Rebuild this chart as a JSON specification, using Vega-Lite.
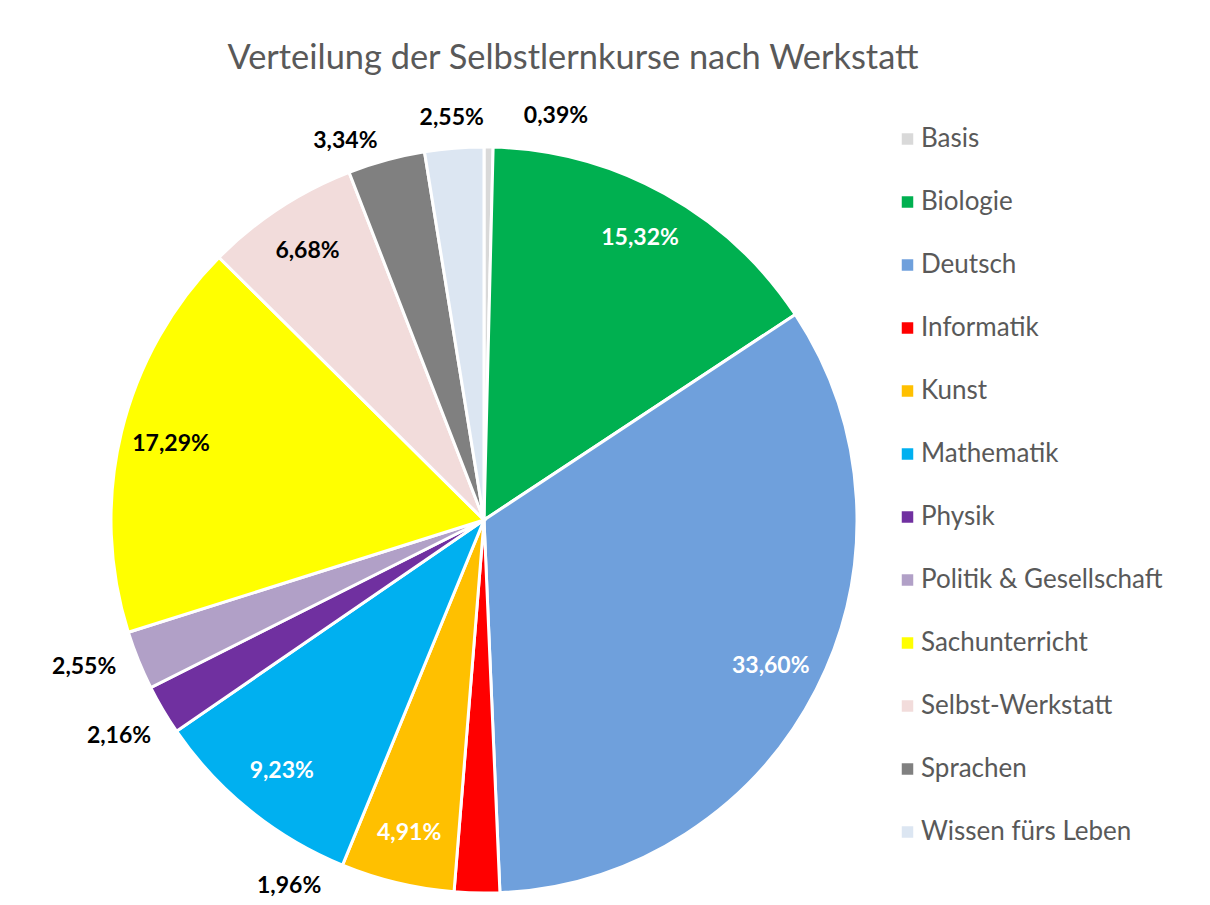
{
  "$schema": "https://vega.github.io/schema/vega-lite/v6.json",
  "width": 746,
  "height": 746,
  "autosize": "none",
  "padding": {"left": 111, "top": 147, "right": 353, "bottom": 12},
  "background": "white",
  "config": {
    "view": {"stroke": null},
    "font": "Lato",
    "locale": {"number": {"decimal": ",", "thousands": ".", "grouping": [3], "currency": ["", " €"]}}
  },
  "title": {
    "text": "Verteilung der Selbstlernkurse nach Werkstatt",
    "fontSize": 34.4,
    "font": "Lato",
    "fontWeight": "normal",
    "color": "#595959",
    "anchor": "middle",
    "dx": 89,
    "dy": 17,
    "offset": 13
  },
  "data": {
    "values": [
      {"Werkstatt": "Basis", "share": 0.0039},
      {"Werkstatt": "Biologie", "share": 0.1532},
      {"Werkstatt": "Deutsch", "share": 0.3360},
      {"Werkstatt": "Informatik", "share": 0.0196},
      {"Werkstatt": "Kunst", "share": 0.0491},
      {"Werkstatt": "Mathematik", "share": 0.0923},
      {"Werkstatt": "Physik", "share": 0.0216},
      {"Werkstatt": "Politik & Gesellschaft", "share": 0.0255},
      {"Werkstatt": "Sachunterricht", "share": 0.1729},
      {"Werkstatt": "Selbst-Werkstatt", "share": 0.0668},
      {"Werkstatt": "Sprachen", "share": 0.0334},
      {"Werkstatt": "Wissen fürs Leben", "share": 0.0255}
    ]
  },
  "encoding": {
    "theta": {"field": "share", "type": "quantitative", "stack": true},
    "order": {"field": "Werkstatt", "sort": "ascending"}
  },
  "layer": [
    {
      "mark": {"type": "arc", "stroke": "white", "strokeWidth": 3},
      "encoding": {
        "color": {
          "field": "Werkstatt",
          "type": "nominal",
          "scale": {
            "domain": ["Basis", "Biologie", "Deutsch", "Informatik", "Kunst", "Mathematik", "Physik", "Politik & Gesellschaft", "Sachunterricht", "Selbst-Werkstatt", "Sprachen", "Wissen fürs Leben"],
            "range": ["#d9d9d9", "#00b050", "#6fa0dc", "#ff0000", "#ffc000", "#00b0f0", "#7030a0", "#b1a0c7", "#ffff00", "#f2dcdb", "#808080", "#dce6f2"]
          },
          "legend": {
            "orient": "none",
            "legendX": 783.5,
            "legendY": -21,
            "title": null,
            "labelFontSize": 26,
            "labelFont": "Lato",
            "labelColor": "#595959",
            "labelLimit": 400,
            "symbolType": "square",
            "symbolSize": 132,
            "symbolStrokeWidth": 0,
            "labelOffset": 0.5,
            "rowPadding": 37,
            "padding": 0
          }
        }
      }
    },
    {
      "mark": {"type": "text", "radius": 322, "fontSize": 23, "fontWeight": "bold", "font": "Lato", "align": "center", "baseline": "middle"},
      "encoding": {
        "text": {
          "condition": {"test": "indexof(['Biologie','Deutsch','Kunst','Mathematik','Sachunterricht','Selbst-Werkstatt'], datum.Werkstatt) >= 0", "field": "share", "type": "quantitative", "format": ".2%"},
          "value": ""
        },
        "color": {
          "condition": {"test": "datum.Werkstatt == 'Sachunterricht' || datum.Werkstatt == 'Selbst-Werkstatt'", "value": "#000000"},
          "value": "#ffffff"
        }
      }
    },
    {
      "mark": {"type": "text", "radius": 403, "fontSize": 23, "fontWeight": "bold", "font": "Lato", "align": "center", "baseline": "middle", "color": "#000000"},
      "encoding": {
        "text": {
          "condition": {"test": "datum.Werkstatt == 'Wissen fürs Leben'", "field": "share", "type": "quantitative", "format": ".2%"},
          "value": ""
        }
      }
    },
    {
      "mark": {"type": "text", "radius": 403, "dx": -33, "dy": 10, "fontSize": 23, "fontWeight": "bold", "font": "Lato", "align": "center", "baseline": "middle", "color": "#000000"},
      "encoding": {
        "text": {
          "condition": {"test": "datum.Werkstatt == 'Sprachen'", "field": "share", "type": "quantitative", "format": ".2%"},
          "value": ""
        }
      }
    },
    {
      "mark": {"type": "text", "radius": 424, "fontSize": 23, "fontWeight": "bold", "font": "Lato", "align": "center", "baseline": "middle", "color": "#000000"},
      "encoding": {
        "text": {
          "condition": {"test": "datum.Werkstatt == 'Physik'", "field": "share", "type": "quantitative", "format": ".2%"},
          "value": ""
        }
      }
    },
    {
      "mark": {"type": "text", "radius": 424, "dx": -7, "dy": -13, "fontSize": 23, "fontWeight": "bold", "font": "Lato", "align": "center", "baseline": "middle", "color": "#000000"},
      "encoding": {
        "text": {
          "condition": {"test": "datum.Werkstatt == 'Politik & Gesellschaft'", "field": "share", "type": "quantitative", "format": ".2%"},
          "value": ""
        }
      }
    },
    {
      "mark": {"type": "text", "radius": 404, "dx": 67, "fontSize": 23, "fontWeight": "bold", "font": "Lato", "align": "center", "baseline": "middle", "color": "#000000"},
      "encoding": {
        "text": {
          "condition": {"test": "datum.Werkstatt == 'Basis'", "field": "share", "type": "quantitative", "format": ".2%"},
          "value": ""
        }
      }
    },
    {
      "mark": {"type": "text", "radius": 366, "dx": -188, "fontSize": 23, "fontWeight": "bold", "font": "Lato", "align": "center", "baseline": "middle", "color": "#000000"},
      "encoding": {
        "text": {
          "condition": {"test": "datum.Werkstatt == 'Informatik'", "field": "share", "type": "quantitative", "format": ".2%"},
          "value": ""
        }
      }
    }
  ]
}
